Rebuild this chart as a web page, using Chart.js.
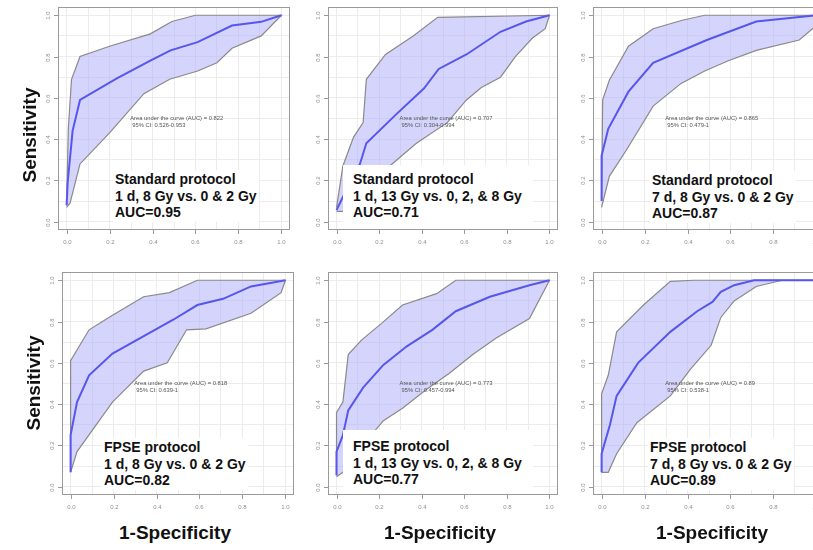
<!DOCTYPE html>
<html>
<head>
<meta charset="utf-8">
<script src="https://cdn.jsdelivr.net/npm/chart.js@4.4.1/dist/chart.umd.min.js"></script>
<style>
  html, body { margin: 0; padding: 0; background: #fff; }
  #fig { position: relative; width: 813px; height: 550px; overflow: hidden; font-family: "Liberation Sans", Arial, sans-serif; }
  #fig canvas { position: absolute; }
  .lbl { position: absolute; font-weight: bold; font-size: 14px; line-height: 16.5px; color: #111; background: #fff; white-space: nowrap; }
  .axt { position: absolute; font-weight: bold; font-size: 19px; color: #111; white-space: nowrap; transform: translate(-50%, -50%); }
</style>
</head>
<body>
<div id="fig"></div>
<script>
// ROC curves: [1-specificity, sensitivity]
const p1Roc   = [[0,0.08],[0.005,0.19],[0.028,0.44],[0.0625,0.59],[0.234,0.694],[0.39,0.78],[0.484,0.83],[0.61,0.87],[0.77,0.95],[0.906,0.968],[1,1]];
const p1Upper = [[0,0.08],[0.008,0.45],[0.023,0.69],[0.0625,0.80],[0.2,0.85],[0.39,0.91],[0.49,0.97],[0.6,1],[1,1]];
const p1Lower = [[0,0.07],[0.016,0.09],[0.0625,0.28],[0.2,0.43],[0.36,0.62],[0.48,0.69],[0.61,0.73],[0.70,0.77],[0.77,0.84],[0.906,0.90],[1,1]];

const p2Roc   = [[0,0.056],[0.023,0.105],[0.11,0.28],[0.14,0.38],[0.28,0.52],[0.41,0.645],[0.48,0.74],[0.61,0.81],[0.77,0.92],[0.89,0.97],[1,1]];
const p2Upper = [[0,0.07],[0.03,0.27],[0.08,0.41],[0.125,0.48],[0.14,0.69],[0.23,0.81],[0.36,0.90],[0.475,0.99],[1,1]];
const p2Lower = [[0,0.05],[0.03,0.05],[0.1,0.1],[0.18,0.18],[0.25,0.27],[0.375,0.38],[0.52,0.48],[0.61,0.59],[0.68,0.65],[0.77,0.70],[0.84,0.80],[0.92,0.89],[0.98,0.935],[1,1]];

const p3Roc   = [[0,0.10],[0,0.32],[0.031,0.45],[0.125,0.63],[0.24,0.77],[0.49,0.88],[0.72,0.97],[1,1]];
const p3Upper = [[0,0.10],[0.005,0.59],[0.036,0.685],[0.125,0.85],[0.24,0.935],[0.375,0.976],[0.48,1],[1,1]];
const p3Lower = [[0,0.07],[0.036,0.22],[0.117,0.35],[0.24,0.56],[0.37,0.67],[0.48,0.73],[0.59,0.78],[0.72,0.83],[0.92,0.88],[1,0.95]];

const p4Roc   = [[0,0.07],[0,0.25],[0.03,0.41],[0.086,0.54],[0.195,0.645],[0.48,0.81],[0.59,0.88],[0.71,0.91],[0.84,0.97],[1,1]];
const p4Upper = [[0,0.07],[0,0.61],[0.086,0.76],[0.195,0.83],[0.34,0.92],[0.46,0.94],[0.59,1],[1,1]];
const p4Lower = [[0,0.07],[0.03,0.17],[0.195,0.41],[0.34,0.56],[0.45,0.60],[0.54,0.76],[0.63,0.765],[0.84,0.84],[0.98,0.94],[1,1]];

const p5Roc   = [[0,0.056],[0,0.17],[0.03,0.25],[0.055,0.37],[0.125,0.48],[0.22,0.59],[0.33,0.68],[0.45,0.76],[0.56,0.85],[0.72,0.92],[0.906,0.976],[1,1]];
const p5Upper = [[0,0.056],[0,0.36],[0.03,0.41],[0.055,0.64],[0.117,0.71],[0.21,0.79],[0.31,0.88],[0.47,0.935],[0.56,1],[1,1]];
const p5Lower = [[0,0.048],[0.03,0.07],[0.08,0.13],[0.13,0.2],[0.18,0.27],[0.22,0.32],[0.31,0.38],[0.42,0.47],[0.53,0.55],[0.64,0.64],[0.75,0.72],[0.906,0.815],[1,1]];

const p6Roc   = [[0,0.07],[0,0.16],[0.039,0.30],[0.07,0.44],[0.17,0.60],[0.32,0.75],[0.445,0.85],[0.516,0.895],[0.555,0.944],[0.617,0.976],[0.71,1],[1,1]];
const p6Upper = [[0,0.07],[0,0.45],[0.031,0.54],[0.07,0.75],[0.195,0.88],[0.32,0.995],[0.43,1],[1,1]];
const p6Lower = [[0,0.07],[0.031,0.07],[0.07,0.16],[0.164,0.31],[0.32,0.44],[0.414,0.57],[0.51,0.685],[0.555,0.82],[0.617,0.90],[0.72,0.97],[0.84,1],[1,1]];

const aucValues = ["0.822", "0.707", "0.865", "0.818", "0.773", "0.89"];
const ciValues  = ["0.526-0.953", "0.304-0.994", "0.479-1", "0.639-1", "0.457-0.994", "0.538-1"];
const titles = [
  ["Standard protocol", "1 d, 8 Gy vs. 0 & 2 Gy", "AUC=0.95"],
  ["Standard protocol", "1 d, 13 Gy vs. 0, 2, & 8 Gy", "AUC=0.71"],
  ["Standard protocol", "7 d, 8 Gy vs. 0 & 2 Gy", "AUC=0.87"],
  ["FPSE protocol", "1 d, 8 Gy vs. 0 & 2 Gy", "AUC=0.82"],
  ["FPSE protocol", "1 d, 13 Gy vs. 0, 2, & 8 Gy", "AUC=0.77"],
  ["FPSE protocol", "7 d, 8 Gy vs. 0 & 2 Gy", "AUC=0.89"],
];
const tickVals = [0, 0.2, 0.4, 0.6, 0.8, 1];
const tickLabels = ["0.0", "0.2", "0.4", "0.6", "0.8", "1.0"];
const gridVals = [0, 0.1, 0.2, 0.3, 0.4, 0.5, 0.6, 0.7, 0.8, 0.9, 1];

// layout: plot frame in page pixels + overlay label spot
const panels = [
  { roc: p1Roc, up: p1Upper, lo: p1Lower, box: [58, 7, 290, 230],   lbl: { x: 113, y: 170 } },
  { roc: p2Roc, up: p2Upper, lo: p2Lower, box: [328, 7, 558, 230],  lbl: { x: 343, y: 165, w: 190, h: 64, pl: 10, pt: 6 } },
  { roc: p3Roc, up: p3Upper, lo: p3Lower, box: [593, 7, 825, 230],  lbl: { x: 650, y: 171 } },
  { roc: p4Roc, up: p4Upper, lo: p4Lower, box: [62, 272, 294, 495], lbl: { x: 102, y: 438 } },
  { roc: p5Roc, up: p5Upper, lo: p5Lower, box: [328, 272, 558, 495], lbl: { x: 343, y: 430, w: 190, h: 64, pl: 10, pt: 8 } },
  { roc: p6Roc, up: p6Upper, lo: p6Lower, box: [593, 272, 825, 495], lbl: { x: 648, y: 438 } },
];
const PAD = { left: 32, top: 7, right: 6, bottom: 22 };

const rPlot = {
  id: "rPlot",
  afterDatasetsDraw(chart, args, opts) {
    const { ctx, chartArea: a, scales: { x, y } } = chart;
    ctx.save();
    ctx.strokeStyle = "#9a9a9a";
    ctx.lineWidth = 1;
    ctx.strokeRect(a.left + 0.5, a.top + 0.5, a.right - a.left - 1, a.bottom - a.top - 1);

    // R-style ticks outside the box
    ctx.fillStyle = "#8f8f8f";
    ctx.font = '6px "Liberation Sans"';
    ctx.textAlign = "center";
    ctx.textBaseline = "middle";
    tickVals.forEach((v, i) => {
      const px = Math.round(x.getPixelForValue(v)) + 0.5;
      const py = Math.round(y.getPixelForValue(v)) + 0.5;
      ctx.beginPath();
      ctx.moveTo(px, a.bottom);
      ctx.lineTo(px, a.bottom + 4);
      ctx.moveTo(a.left, py);
      ctx.lineTo(a.left - 4, py);
      ctx.stroke();
      ctx.fillText(tickLabels[i], px, a.bottom + 12);
      ctx.save();
      ctx.translate(a.left - 10, py);
      ctx.rotate(-Math.PI / 2);
      ctx.fillText(tickLabels[i], 0, 0);
      ctx.restore();
    });

    // pROC print.auc text
    ctx.fillStyle = "#555";
    ctx.font = '5.8px "Liberation Sans"';
    ctx.textAlign = "left";
    const tx = x.getPixelForValue(0.296);
    ctx.fillText("Area under the curve (AUC) = " + opts.auc, tx, y.getPixelForValue(0.5));
    ctx.fillText("95% CI: " + opts.ci, tx + 2, y.getPixelForValue(0.465));
    ctx.restore();
  },
};

const fig = document.getElementById("fig");
const toXY = (pts) => pts.map(([x, y]) => ({ x, y }));

panels.forEach((p, i) => {
  const [l, t, r, b] = p.box;
  const cv = document.createElement("canvas");
  const w = r - l + PAD.left + PAD.right;
  const h = b - t + PAD.top + PAD.bottom;
  cv.width = w;
  cv.height = h;
  cv.style.left = (l - PAD.left) + "px";
  cv.style.top = (t - PAD.top) + "px";
  cv.style.width = w + "px";
  cv.style.height = h + "px";
  fig.appendChild(cv);

  // confidence band as one closed shape: upper forward, lower back
  const band = toXY(p.up.concat(p.lo.slice().reverse()));

  const axis = (isX) => ({
    type: "linear",
    min: -0.04,
    max: 1.04,
    afterBuildTicks: (s) => { s.ticks = gridVals.map((v) => ({ value: v })); },
    afterFit: (s) => { if (isX) s.height = 0; else s.width = 0; },
    ticks: { display: false },
    grid: { color: "#ececec", lineWidth: 1, drawTicks: false },
    border: { display: false },
  });

  new Chart(cv, {
    type: "scatter",
    data: {
      datasets: [
        { data: toXY(p.roc), showLine: true, borderColor: "#5757ee", borderWidth: 2, pointRadius: 0, fill: false },
        { data: band, showLine: true, borderColor: "#8a8a8a", borderWidth: 1.2, backgroundColor: "rgba(170,170,250,0.5)", fill: "shape", pointRadius: 0 },
      ],
    },
    options: {
      responsive: false,
      animation: false,
      devicePixelRatio: 1,
      layout: { padding: PAD },
      plugins: {
        legend: { display: false },
        tooltip: { enabled: false },
        rPlot: { auc: aucValues[i], ci: ciValues[i] },
      },
      scales: { x: axis(true), y: axis(false) },
    },
    plugins: [rPlot],
  });

  // overlay label box
  const d = document.createElement("div");
  d.className = "lbl";
  d.style.left = p.lbl.x + "px";
  d.style.top = p.lbl.y + "px";
  if (p.lbl.w) {
    d.style.width = (p.lbl.w - p.lbl.pl) + "px";
    d.style.height = (p.lbl.h - p.lbl.pt) + "px";
    d.style.paddingLeft = p.lbl.pl + "px";
    d.style.paddingTop = p.lbl.pt + "px";
  } else {
    d.style.padding = "1px 2px";
  }
  d.innerHTML = titles[i].map((s) => s.replace(/&/g, "&amp;")).join("<br>");
  fig.appendChild(d);
});

// axis titles
[[30, 135], [34, 383]].forEach(([cx, cy]) => {
  const d = document.createElement("div");
  d.className = "axt";
  d.textContent = "Sensitivity";
  d.style.left = cx + "px";
  d.style.top = cy + "px";
  d.style.transform = "translate(-50%, -50%) rotate(-90deg)";
  fig.appendChild(d);
});
[175, 440, 712].forEach((cx) => {
  const d = document.createElement("div");
  d.className = "axt";
  d.textContent = "1-Specificity";
  d.style.left = cx + "px";
  d.style.top = "533px";
  fig.appendChild(d);
});
</script>
</body>
</html>
